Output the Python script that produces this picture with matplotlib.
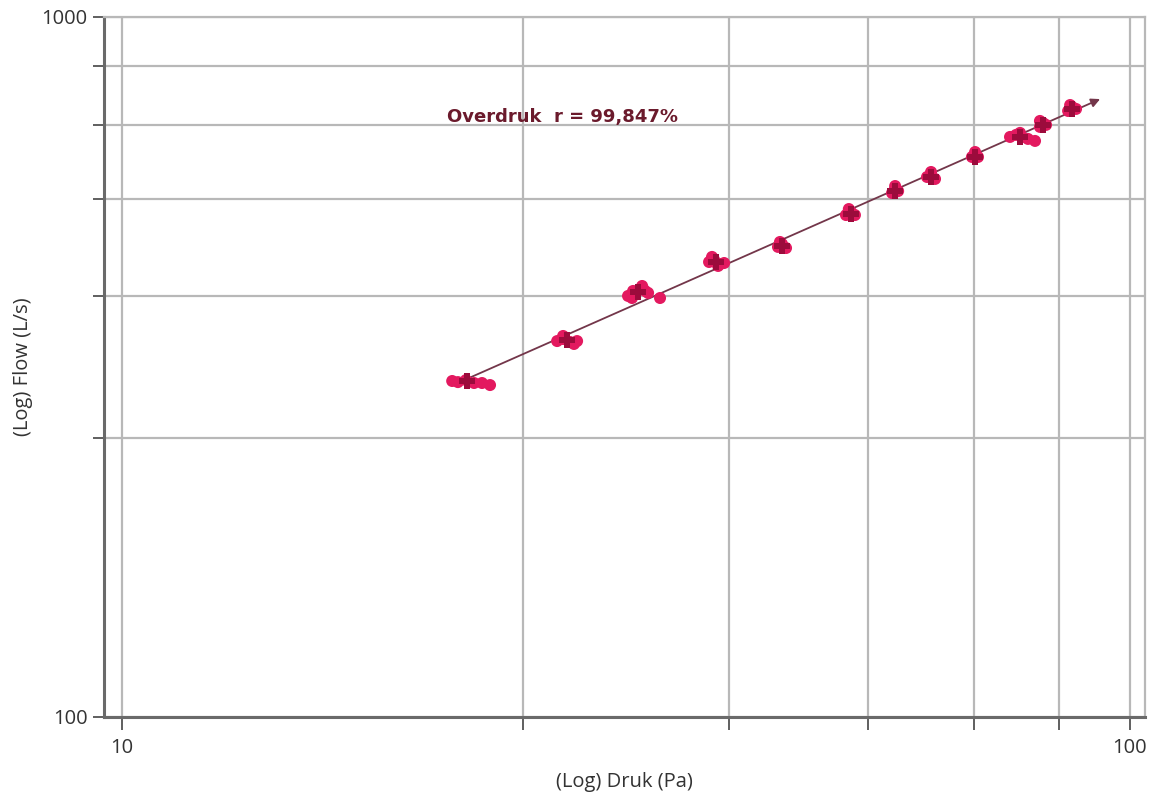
import numpy as np
import matplotlib
matplotlib.use("Agg")
import matplotlib.pyplot as plt
from matplotlib.ticker import FixedLocator, FuncFormatter, NullLocator

# Measured pressure difference (Pa) and flow (L/s), grouped per pressure step
druk = [
    21.26, 21.54, 21.94, 22.35, 22.76, 23.18,
    27.02, 27.39, 27.83, 28.28, 27.39, 28.08,
    31.77, 32.14, 32.66, 33.04, 33.26, 34.18, 32.06, 32.81,
    38.23, 38.68, 39.21, 39.57, 38.49, 39.03,
    44.75, 45.16, 45.58, 44.95,
    52.27, 52.87, 53.35, 52.61,
    58.07, 58.48, 58.88, 58.48,
    62.90, 63.48, 64.06, 63.48,
    69.70, 70.20, 70.67, 70.20,
    76.03, 77.08, 78.15, 79.21, 80.50, 77.79,
    81.41, 81.98, 82.55, 81.41,
    86.82, 87.62, 88.41, 87.22,
]
flow = [
    302.0, 300.9, 302.9, 300.0, 300.0, 298.0,
    344.4, 346.7, 343.3, 344.4, 350.2, 341.1,
    399.5, 406.1, 408.8, 406.1, 403.5, 396.8, 396.8, 412.8,
    446.7, 449.6, 443.7, 445.2, 454.2, 440.9,
    469.4, 474.0, 467.7, 477.1,
    521.3, 526.5, 521.3, 531.7,
    560.5, 567.9, 564.1, 573.5,
    590.8, 594.7, 587.0, 600.6,
    631.0, 635.2, 631.0, 641.4,
    674.0, 678.5, 674.0, 669.6, 665.2, 683.0,
    696.6, 705.8, 701.2, 710.4,
    734.1, 743.8, 739.0, 748.6,
]

# Mean of each pressure step
druk_mean = [21.99, 27.64, 32.51, 38.86, 45.16, 52.87, 58.48, 63.48, 70.20, 77.79, 81.98, 87.62]
flow_mean = [302.0, 345.5, 404.8, 446.7, 470.9, 523.0, 564.1, 590.8, 631.0, 674.0, 701.2, 739.0]

fit_range = [21.99, 93.4]
fit_label = "Overdruk  r = 99,847%"

x_ticks = [10, 25, 40, 55, 70, 85, 100]
y_ticks = [100, 250, 400, 550, 700, 850, 1000]

plt.rcParams["font.family"] = ["Open Sans", "DejaVu Sans"]

fig = plt.figure(figsize=(11.53, 8.0), dpi=100)
ax = fig.add_axes([104 / 1153, 83 / 800, 1041 / 1153, 700 / 800])
ax.set_xscale("log")
ax.set_yscale("log")
ax.set_xlim(9.597, 103.49)
ax.set_ylim(100, 1000)

# Grid on the fixed linear steps
grid_c = "#b8b8b8"
for xv in x_ticks:
    ax.axvline(xv, color=grid_c, lw=1.6, zorder=0)
for yv in y_ticks:
    ax.axhline(yv, color=grid_c, lw=1.6, zorder=0)

ax.xaxis.set_major_locator(FixedLocator(x_ticks))
ax.yaxis.set_major_locator(FixedLocator(y_ticks))
ax.xaxis.set_minor_locator(NullLocator())
ax.yaxis.set_minor_locator(NullLocator())
ax.xaxis.set_major_formatter(FuncFormatter(lambda v, p: f"{v:g}" if v in (10, 100) else ""))
ax.yaxis.set_major_formatter(FuncFormatter(lambda v, p: f"{v:g}" if v in (100, 1000) else ""))
ax.tick_params(axis="x", direction="out", length=9, width=1.2, color="#444444",
               labelsize=14.5, labelcolor="#333333", pad=6)
ax.tick_params(axis="y", direction="out", length=8, width=1.2, color="#444444",
               labelsize=14.5, labelcolor="#333333", pad=4)

for side in ("left", "bottom"):
    ax.spines[side].set_color("#6a6a6a")
    ax.spines[side].set_linewidth(2.2)
for side in ("top", "right"):
    ax.spines[side].set_color(grid_c)
    ax.spines[side].set_linewidth(1.6)

# Power-law fit in log space, drawn as an arrow over the fit range
n_exp, log_c = np.polyfit(np.log10(druk), np.log10(flow), 1)
fx = np.array(fit_range)
fy = 10 ** (log_c + n_exp * np.log10(fx))
ax.annotate("", xy=(fx[1], fy[1]), xytext=(fx[0], fy[0]),
            arrowprops=dict(arrowstyle="-|>", color="#73364a", lw=1.3,
                            mutation_scale=13, shrinkA=0, shrinkB=0), zorder=3)

ax.scatter(druk, flow, s=75, color="#e3195f", edgecolors="none", zorder=4)
ax.scatter(druk_mean, flow_mean, s=140, marker="P", color="#9c0b3c",
           edgecolors="none", zorder=5)

ax.text(21.01, 719.8, fit_label, ha="left", va="center", fontsize=13,
        fontweight="bold", color="#6b1a2c", family=["DejaVu Sans"], zorder=6)

ax.set_xlabel("(Log) Druk (Pa)", fontsize=14.5, color="#333333", va="center")
ax.set_ylabel("(Log) Flow (L/s)", fontsize=14.5, color="#333333", va="center")
ax.xaxis.set_label_coords(0.5, -0.0929)
ax.yaxis.set_label_coords(-0.0778, 0.5)

fig.savefig("out.png", dpi=100, facecolor="white")
